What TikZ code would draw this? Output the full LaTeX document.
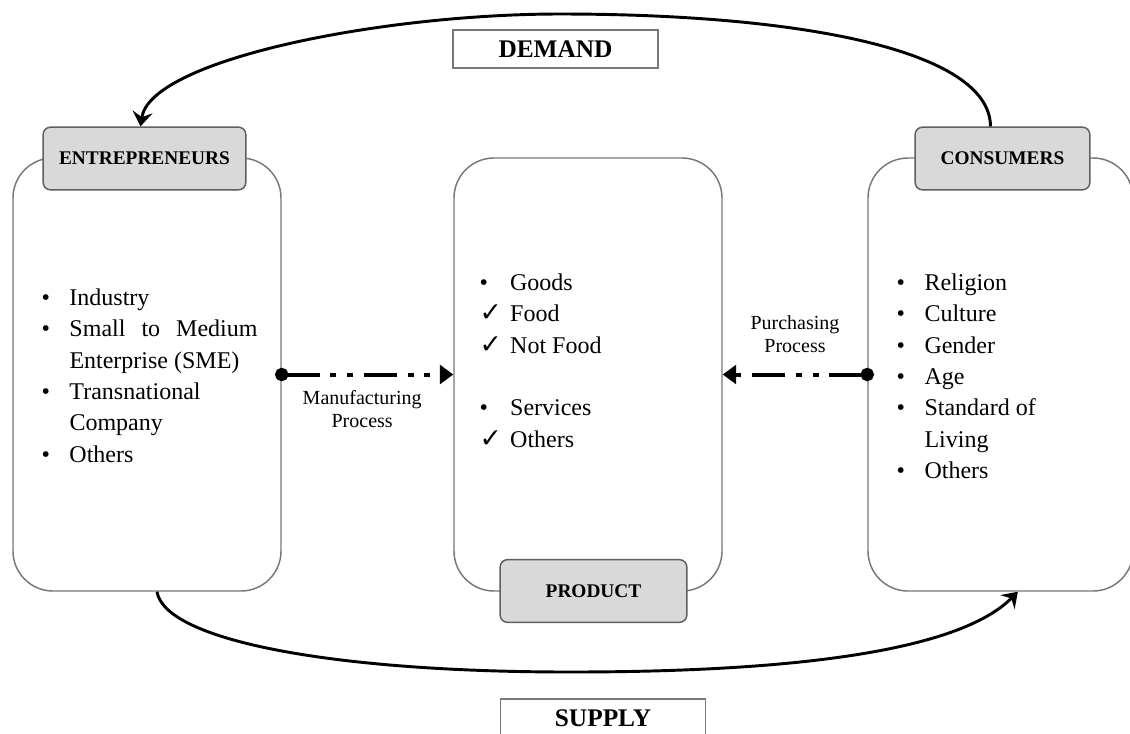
\documentclass[tikz,border=0pt]{standalone}
\usepackage{fontspec}
\setmainfont{Liberation Serif}
\newfontfamily\chkfont{DejaVu Sans}
\usetikzlibrary{arrows.meta}

\definecolor{boxline}{RGB}{120,120,120}
\definecolor{headline}{RGB}{95,95,95}
\definecolor{headfill}{RGB}{217,217,217}
\newcommand{\chk}{{\chkfont\fontsize{20}{23.5}\selectfont ✓}}

\tikzset{every picture/.style={line width=0.75pt}}

\begin{document}
\begin{tikzpicture}[x=0.75pt,y=0.75pt,yscale=-1,xscale=1,
    bigbox/.style={draw=boxline, line width=1.1pt, fill=white, rounded corners=30pt, minimum width=201pt, minimum height=324.75pt, inner sep=0pt},
    headbox/.style={draw=headline, line width=1.1pt, fill=headfill, rounded corners=5.5pt, minimum height=47pt, inner sep=0pt, font=\fontsize{14.5}{16}\selectfont\bfseries},
    titlebox/.style={draw=boxline, line width=1.1pt, fill=white, minimum width=154pt, minimum height=28.5pt, inner sep=0pt, font=\fontsize{19}{22}\selectfont\bfseries},
    listtext/.style={anchor=north west, inner sep=0pt, font=\fontsize{18}{23.5}\selectfont},
    proclabel/.style={font=\fontsize{15}{17}\selectfont, align=center, inner sep=0pt},
    flow/.style={line width=2.2pt, -{Stealth[length=11pt,width=15pt,inset=4pt]}},
    proc/.style={line width=3pt, dash pattern=on 25pt off 8pt on 4.5pt off 8pt on 4.5pt off 8pt, {Circle[length=10pt]}-{Triangle[length=10pt,width=14pt]}, shorten <=-5pt}
  ]
  \useasboundingbox (0,0) rectangle (1130,733);
  \clip (0,0) rectangle (1130,733);

  %Rounded Rect: the three columns
  \node[bigbox] (entbox) at (147,374.5) {};
  \node[bigbox] (prodbox) at (588,374.5) {};
  \node[bigbox, minimum width=198.75pt] (conbox) at (1000.5,374.5) {};

  %Rounded Rect: headers
  \node[headbox, minimum width=152pt] (ent) at (144.5,158.5) {ENTREPRENEURS};
  \node[headbox, minimum width=131pt] (con) at (1002.5,158.5) {CONSUMERS};
  \node[headbox, minimum width=140pt] (prod) at (593.5,591) {PRODUCT};

  %Shape: Rectangle
  \node[titlebox] (demand) at (555.5,49) {DEMAND};
  \node[titlebox] (supply) at (603,718) {SUPPLY};

  % Text Node
  \node[listtext] (entlist) at (41,283) {\begin{tabular}{@{}p{21pt}@{}l@{}}
    • & Industry\\
    • & \makebox[141pt][s]{Small to Medium}\\
      & Enterprise (SME)\\
    • & Transnational\\
      & Company\\
    • & Others
  \end{tabular}};
  % Text Node
  \node[listtext] (prodlist) at (479,268) {\begin{tabular}{@{}p{23pt}@{}l@{}}
    • & Goods\\
    \chk & Food\\
    \chk & Not Food\\
      & \\
    • & Services\\
    \chk & Others
  \end{tabular}};
  % Text Node
  \node[listtext] (conlist) at (896,268) {\begin{tabular}{@{}p{21pt}@{}l@{}}
    • & Religion\\
    • & Culture\\
    • & Gender\\
    • & Age\\
    • & Standard of\\
      & Living\\
    • & Others
  \end{tabular}};

  %Straight Lines: processes
  \draw[proc] (entbox.east) -- (prodbox.west)
    node[proclabel, midway, below=10.5pt, xshift=-4pt] (manu) {Manufacturing\\Process};
  \draw[proc] (conbox.west) -- (prodbox.east)
    node[proclabel, midway, above=15pt] (purch) {Purchasing\\Process};

  %Curve Lines: demand and supply
  \draw[flow] ([xshift=-9pt]con.north) .. controls (990,50) and (800,14) .. (560,14)
    .. controls (380,14) and (150,60) .. ([xshift=-3pt]ent.north);
  \draw[flow] ([xshift=7.5pt]entbox.south) .. controls (165,640) and (330,672) .. (570,672)
    .. controls (800,672) and (960,650) .. ([xshift=13pt]conbox.south);

\end{tikzpicture}
\end{document}
